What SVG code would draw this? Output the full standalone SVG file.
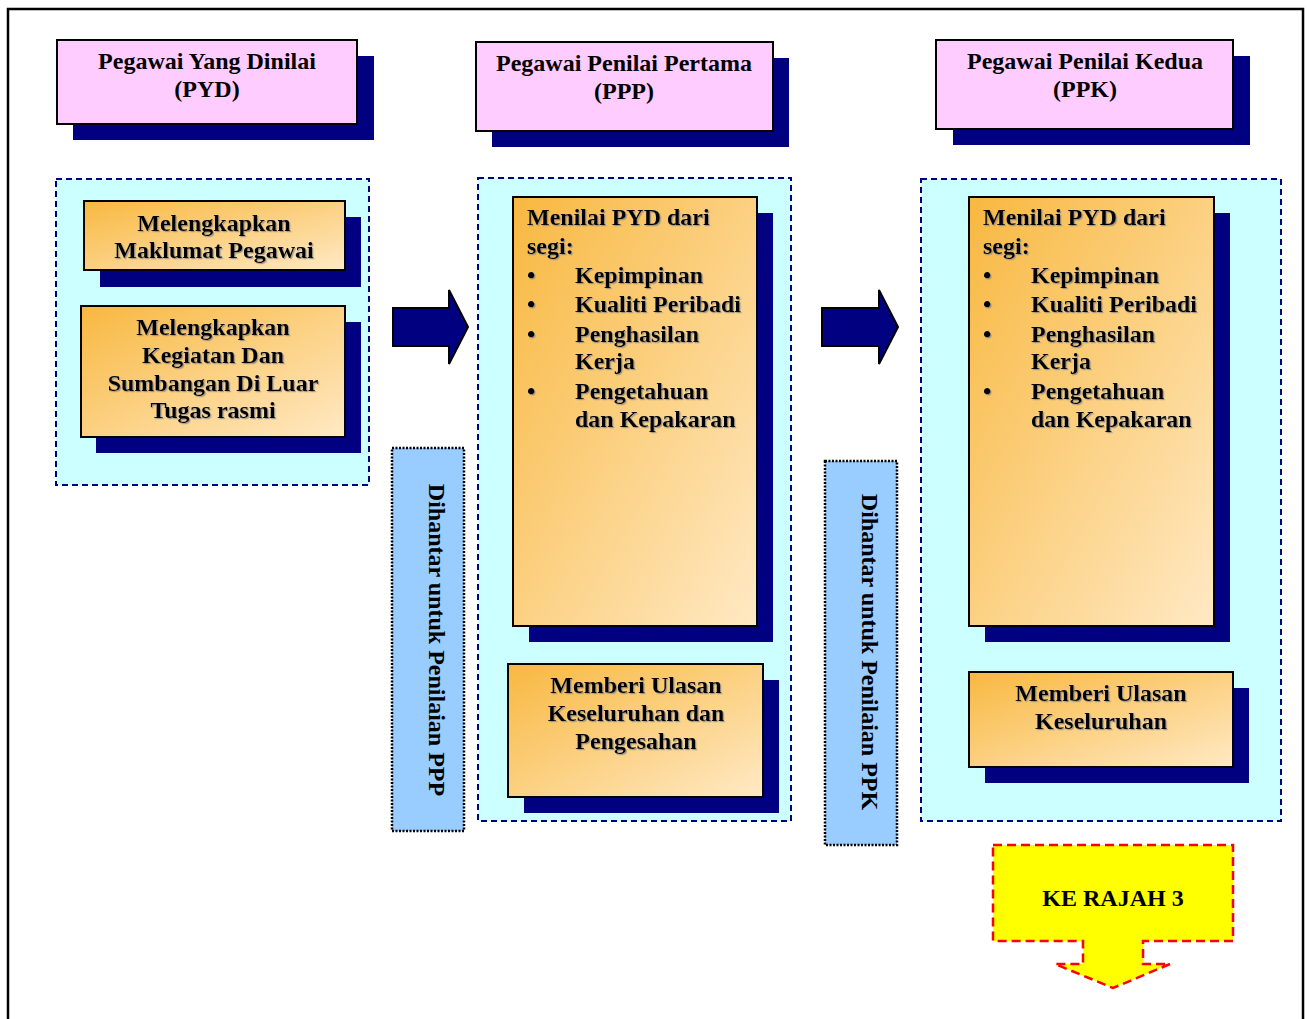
<svg xmlns="http://www.w3.org/2000/svg" width="1309" height="1019" viewBox="0 0 1309 1019">
<defs>
<linearGradient id="og" x1="0" y1="0" x2="1" y2="1">
<stop offset="0" stop-color="#f8b840"/>
<stop offset="1" stop-color="#ffe9c4"/>
</linearGradient>
<filter id="ts" x="-5%" y="-5%" width="110%" height="120%">
<feDropShadow dx="1.2" dy="1.2" stdDeviation="0.4" flood-color="#888" flood-opacity="0.8"/>
</filter>
<style>
.t{font-family:"Liberation Serif","Times New Roman",serif;font-weight:bold;font-size:24px;fill:#000}
.c{text-anchor:middle}
.sh{fill:#000080}
.pk{fill:#ffccff;stroke:#000;stroke-width:2}
.or{fill:url(#og);stroke:#000;stroke-width:2}
.cy{fill:#ccffff;stroke:#000080;stroke-width:2;stroke-dasharray:6,4}
.bl{fill:#99ccff;stroke:#000;stroke-width:2.5;stroke-dasharray:2,1.5}
.ar{fill:#000080;stroke:#000;stroke-width:2}
.gs{filter:url(#ts)}
</style>
</defs>
<rect x="0" y="0" width="1309" height="1019" fill="#fff"/>
<rect x="8" y="9" width="1295" height="1030" fill="none" stroke="#000" stroke-width="2.5"/>

<g id="pyd-header">
<rect class="sh" x="73" y="56" width="301" height="84"/>
<rect class="pk" x="57" y="40" width="300" height="84"/>
<text class="t c" x="207" y="69">Pegawai Yang Dinilai</text>
<text class="t c" x="207" y="97">(PYD)</text>
</g>
<g id="ppp-header">
<rect class="sh" x="492" y="58" width="297" height="89"/>
<rect class="pk" x="476" y="42" width="297" height="89"/>
<text class="t c" x="624" y="71">Pegawai Penilai Pertama</text>
<text class="t c" x="624" y="99">(PPP)</text>
</g>
<g id="ppk-header">
<rect class="sh" x="953" y="56" width="297" height="89"/>
<rect class="pk" x="936" y="40" width="297" height="89"/>
<text class="t c" x="1085" y="69">Pegawai Penilai Kedua</text>
<text class="t c" x="1085" y="97">(PPK)</text>
</g>

<g id="pyd-group">
<rect class="cy" x="56" y="179" width="313" height="306"/>
</g>
<g id="ppp-group">
<rect class="cy" x="478" y="178" width="313" height="643"/>
</g>
<g id="ppk-group">
<rect class="cy" x="921" y="179" width="360" height="642"/>
</g>

<g id="maklumat">
<rect class="sh" x="100" y="217" width="261" height="70"/>
<rect class="or" x="84" y="201" width="261" height="69"/>
<g class="gs">
<text class="t c" x="214" y="231">Melengkapkan</text>
<text class="t c" x="214" y="258">Maklumat Pegawai</text>
</g>
</g>
<g id="kegiatan">
<rect class="sh" x="96" y="322" width="265" height="131"/>
<rect class="or" x="81" y="306" width="264" height="131"/>
<g class="gs">
<text class="t c" x="213" y="335">Melengkapkan</text>
<text class="t c" x="213" y="363">Kegiatan Dan</text>
<text class="t c" x="213" y="391">Sumbangan Di Luar</text>
<text class="t c" x="213" y="418">Tugas rasmi</text>
</g>
</g>

<g id="ppp-menilai">
<rect class="sh" x="529" y="213" width="244" height="429"/>
<rect class="or" x="513" y="197" width="244" height="429"/>
<g class="gs">
<text class="t" x="527" y="225">Menilai PYD dari</text>
<text class="t" x="527" y="254">segi:</text>
<text class="t" x="527" y="283">•</text><text class="t" x="575" y="283">Kepimpinan</text>
<text class="t" x="527" y="312">•</text><text class="t" x="575" y="312">Kualiti Peribadi</text>
<text class="t" x="527" y="342">•</text><text class="t" x="575" y="342">Penghasilan</text>
<text class="t" x="575" y="369">Kerja</text>
<text class="t" x="527" y="399">•</text><text class="t" x="575" y="399">Pengetahuan</text>
<text class="t" x="575" y="427">dan Kepakaran</text>
</g>
</g>
<g id="ppp-ulasan">
<rect class="sh" x="524" y="680" width="255" height="133"/>
<rect class="or" x="508" y="664" width="255" height="133"/>
<g class="gs">
<text class="t c" x="636" y="693">Memberi Ulasan</text>
<text class="t c" x="636" y="721">Keseluruhan dan</text>
<text class="t c" x="636" y="749">Pengesahan</text>
</g>
</g>

<g id="ppk-menilai">
<rect class="sh" x="985" y="213" width="245" height="429"/>
<rect class="or" x="969" y="197" width="245" height="429"/>
<g class="gs">
<text class="t" x="983" y="225">Menilai PYD dari</text>
<text class="t" x="983" y="254">segi:</text>
<text class="t" x="983" y="283">•</text><text class="t" x="1031" y="283">Kepimpinan</text>
<text class="t" x="983" y="312">•</text><text class="t" x="1031" y="312">Kualiti Peribadi</text>
<text class="t" x="983" y="342">•</text><text class="t" x="1031" y="342">Penghasilan</text>
<text class="t" x="1031" y="369">Kerja</text>
<text class="t" x="983" y="399">•</text><text class="t" x="1031" y="399">Pengetahuan</text>
<text class="t" x="1031" y="427">dan Kepakaran</text>
</g>
</g>
<g id="ppk-ulasan">
<rect class="sh" x="985" y="688" width="264" height="95"/>
<rect class="or" x="969" y="672" width="264" height="95"/>
<g class="gs">
<text class="t c" x="1101" y="701">Memberi Ulasan</text>
<text class="t c" x="1101" y="729">Keseluruhan</text>
</g>
</g>

<g id="label-ppp">
<rect class="bl" x="392" y="448" width="72" height="383"/>
<text class="t c" transform="translate(429,640) rotate(90)" x="0" y="0">Dihantar untuk Penilaian PPP</text>
</g>
<g id="label-ppk">
<rect class="bl" x="825" y="461" width="72" height="384"/>
<text class="t c" transform="translate(862,652) rotate(90)" x="0" y="0">Dihantar untuk Penilaian PPK</text>
</g>

<g id="ke-rajah-3">
<path d="M993,845 H1233 V941 H1143 V964 H1170 L1113,988 L1055,964 H1083 V941 H993 Z" fill="#ffff00" stroke="#ff0000" stroke-width="2.5" stroke-dasharray="9,5"/>
<text class="t c" x="1113" y="906">KE RAJAH 3</text>
</g>

<g id="connectors">
<path class="ar" d="M393,308 H449 V290 L468,327 L449,364 V346 H393 Z"/>
<path class="ar" d="M822,308 H879 V290 L898,327 L879,364 V346 H822 Z"/>
</g>
</svg>
